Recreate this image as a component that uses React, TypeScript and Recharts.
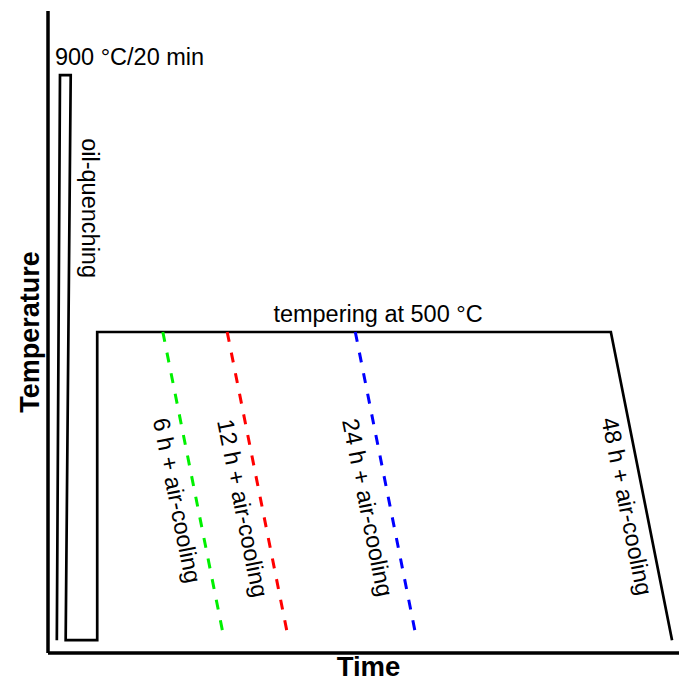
import React from 'react';
import { ComposedChart, Line, XAxis, YAxis, ReferenceDot, Label } from 'recharts';

// Heat-treatment route (time in arbitrary units, temperature in °C)
const processTime = [1.4, 1.9, 3.6, 2.8, 7.8, 7.8, 89.2, 98.9];
const processTemp = [20, 900, 900, 20, 20, 500, 500, 20];

// Air-cooling branches leaving the tempering plateau (6 h, 12 h, 24 h)
const coolStartTime = [18.2, 28.4, 48.7];
const coolEndTime = [27.7, 37.9, 58.2];
const coolStartTemp = 500;
const coolEndTemp = 32;
const coolColors = ['#00f000', '#ff0000', '#0000ff'];

// Annotation texts
const annotationTexts = [
  '900 °C/20 min',
  'oil-quenching',
  'tempering at 500 °C',
  '6 h + air-cooling',
  '12 h + air-cooling',
  '24 h + air-cooling',
  '48 h + air-cooling',
];
const annotationTime = [1.1, 5.4, 52.3, 19.2, 29.6, 49.4, 90.5];
const annotationTemp = [916, 693, 515, 235, 223, 224, 226];
const annotationAngle = [0, 90, 0, 78.7, 78.7, 78.7, 78.7];
const annotationAnchor = ['start', 'middle', 'middle', 'middle', 'middle', 'middle', 'middle'];

const FONT = 'Liberation Sans, Arial, Helvetica, sans-serif';

const processData = processTime.map((t, i) => ({ t, T: processTemp[i] }));
const coolData = coolStartTime.map((s, i) => [
  { t: s, T: coolStartTemp },
  { t: coolEndTime[i], T: coolEndTemp },
]);

export default function App() {
  return (
    <div style={{ position: 'absolute', left: 0, top: 0 }}>
      <ComposedChart width={679} height={681} margin={{ top: 11, right: 0, bottom: 0, left: 0 }}>
        <XAxis
          type="number"
          dataKey="t"
          domain={[0, 100]}
          allowDataOverflow
          height={28}
          tick={false}
          tickLine={false}
          axisLine={{ stroke: '#000', strokeWidth: 3.5 }}
          label={
            <Label
              content={(p: any) => {
                const vb = p.viewBox;
                return (
                  <text
                    x={vb.x + vb.width / 2 + 5}
                    y={vb.y + 23}
                    textAnchor="middle"
                    fontFamily={FONT}
                    fontWeight="bold"
                    fontSize={27.5}
                    fill="#000"
                  >
                    Time
                  </text>
                );
              }}
            />
          }
        />
        <YAxis
          type="number"
          dataKey="T"
          domain={[0, 1000]}
          allowDataOverflow
          width={48}
          tick={false}
          tickLine={false}
          axisLine={{ stroke: '#000', strokeWidth: 3.5 }}
          label={
            <Label
              content={(p: any) => {
                const vb = p.viewBox;
                const cx = 39;
                const cy = vb.y + vb.height / 2;
                return (
                  <text
                    x={cx}
                    y={cy}
                    transform={`rotate(-90 ${cx} ${cy})`}
                    textAnchor="middle"
                    fontFamily={FONT}
                    fontWeight="bold"
                    fontSize={27}
                    fill="#000"
                  >
                    Temperature
                  </text>
                );
              }}
            />
          }
        />
        <Line
          data={processData}
          dataKey="T"
          type="linear"
          stroke="#000"
          strokeWidth={2.7}
          strokeLinejoin="miter"
          dot={false}
          activeDot={false}
          isAnimationActive={false}
        />
        {coolData.map((d, i) => (
          <Line
            key={i}
            data={d}
            dataKey="T"
            type="linear"
            stroke={coolColors[i]}
            strokeWidth={3}
            strokeDasharray="10 11"
            dot={false}
            activeDot={false}
            isAnimationActive={false}
          />
        ))}
        {annotationTexts.map((txt, i) => (
          <ReferenceDot
            key={'a' + i}
            x={annotationTime[i]}
            y={annotationTemp[i]}
            r={1}
            shape={(p: any) => (
              <text
                x={p.cx}
                y={p.cy}
                transform={`rotate(${annotationAngle[i]} ${p.cx} ${p.cy})`}
                textAnchor={annotationAnchor[i] as any}
                fontFamily={FONT}
                fontSize={23.5}
                fill="#000"
              >
                {txt}
              </text>
            )}
          />
        ))}
      </ComposedChart>
    </div>
  );
}
